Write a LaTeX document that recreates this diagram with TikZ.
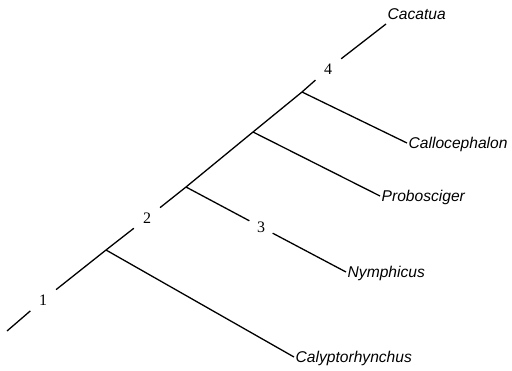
\documentclass[tikz,border=0pt]{standalone}
\usepackage{fontspec}
\setmainfont{Liberation Serif}
\setsansfont{Liberation Sans}

\tikzset{
  taxon/.style={anchor=west, inner sep=1.5pt, text height=11.4pt, text depth=0pt,
    font=\sffamily\itshape\fontsize{15.6}{18}\selectfont},
  clade/.style={circle, inner sep=0pt, minimum size=33pt,
    font=\fontsize{16}{18}\selectfont},
  branch/.style={line width=1.3pt}
}

\begin{document}
\begin{tikzpicture}[x=1pt,y=-1pt]
\useasboundingbox (0,0) rectangle (512,370);
% backbone of the tree
\coordinate (root) at (7,331);
\node[clade] (n1) at (43,300) {1};
\coordinate (a) at (106,250);
\node[clade] (n2) at (147,218) {2};
\coordinate (b) at (186,187);
\coordinate (c) at (253,132);
\coordinate (d) at (302,92);
\node[clade] (n4) at (328,69) {4};
\coordinate (tip) at (386,24);
% clade on the Nymphicus branch
\node[clade, minimum size=26pt] (n3) at (261,227) {3};

% genera
\node[taxon, anchor=base west] (cacatua) at (386,19) {Cacatua};
\node[taxon] (callo) at (407,143) {Callocephalon};
\node[taxon] (probo) at (380,196) {Probosciger};
\node[taxon] (nymph) at (346,272) {Nymphicus};
\node[taxon] (calyp) at (294,357) {Calyptorhynchus};

\draw[branch] (root) -- (n1) -- (a) -- (n2) -- (b) -- (c) -- (d) -- (n4) -- (tip);
\draw[branch] (a) -- (calyp.west);
\draw[branch] (b) -- (n3) -- (nymph.west);
\draw[branch] (c) -- (probo.west);
\draw[branch] (d) -- (callo.west);
\end{tikzpicture}
\end{document}
